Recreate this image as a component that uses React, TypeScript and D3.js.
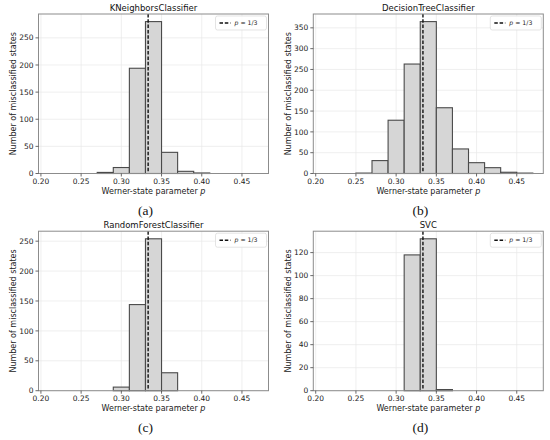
import * as d3 from "d3";

// histogram bin edges (width 0.02)
const binEdges = [0.21, 0.23, 0.25, 0.27, 0.29, 0.31, 0.33, 0.35, 0.37, 0.39, 0.41, 0.43, 0.45, 0.47];

const knnCounts = [0, 0, 0, 2, 11, 194, 280, 39, 4, 1, 0, 0, 0];
const treeCounts = [0, 0, 1, 31, 128, 263, 365, 158, 59, 26, 14, 3, 1];
const forestCounts = [0, 0, 0, 0, 6, 144, 254, 30, 0, 0, 0, 0, 0];
const svcCounts = [0, 0, 0, 0, 0, 118, 132, 1, 0, 0, 0, 0, 0];

const titles = ["KNeighborsClassifier", "DecisionTreeClassifier", "RandomForestClassifier", "SVC"];
const panelLabels = ["(a)", "(b)", "(c)", "(d)"];
const xTicks = [0.2, 0.25, 0.3, 0.35, 0.4, 0.45];
const yTickSets = [
  [0, 50, 100, 150, 200, 250],
  [0, 50, 100, 150, 200, 250, 300, 350],
  [0, 50, 100, 150, 200, 250],
  [0, 20, 40, 60, 80, 100, 120],
];
const countSets = [knnCounts, treeCounts, forestCounts, svcCounts];
const pCrit = 1 / 3;

const FONT = "DejaVu Sans, sans-serif";

function Panel({ idx, ox, oy }: { idx: number; ox: number; oy: number }) {
  const counts = countSets[idx];
  const W = 230;
  const H = 159.5;
  const x = d3.scaleLinear().domain([0.197, 0.483]).range([0, W]);
  const y = d3.scaleLinear().domain([0, (d3.max(counts) || 1) * 1.05]).range([H, 0]);
  const spine = "#8c8c8c";

  return (
    <g transform={`translate(${ox},${oy})`}>
      <rect x={0} y={0} width={W} height={H} fill="#fff" />
      {/* grid */}
      {xTicks.map(t => (
        <line key={"gx" + t} x1={x(t)} x2={x(t)} y1={0} y2={H} stroke="#e8e8e8" strokeWidth={0.7} />
      ))}
      {yTickSets[idx].map(t => (
        <line key={"gy" + t} x1={0} x2={W} y1={y(t)} y2={y(t)} stroke="#e8e8e8" strokeWidth={0.7} />
      ))}
      {/* bars */}
      {counts.map((c, i) => (
        <rect key={"b" + i}
          x={x(binEdges[i])} width={x(binEdges[i + 1]) - x(binEdges[i])}
          y={y(c)} height={y(0) - y(c)}
          fill="#d6d6d6" stroke="#4a4a4a" strokeWidth={1.1} />
      ))}
      {/* p = 1/3 */}
      <line x1={x(pCrit)} x2={x(pCrit)} y1={0} y2={H}
        stroke="#111" strokeWidth={1.4} strokeDasharray="3.5,1.8" />
      {/* spines */}
      <rect x={0} y={0} width={W} height={H} fill="none" stroke={spine} strokeWidth={1} />
      {/* x axis */}
      {xTicks.map(t => (
        <g key={"xt" + t} transform={`translate(${x(t)},${H})`}>
          <line y1={0} y2={3} stroke="#444" strokeWidth={0.8} />
          <text y={10.5} textAnchor="middle" fontSize={7.5} fontFamily={FONT} fill="#222">{d3.format(".2f")(t)}</text>
        </g>
      ))}
      <text x={W / 2} y={H + 20} textAnchor="middle" fontSize={8} fontFamily={FONT} fill="#222">
        Werner-state parameter <tspan fontStyle="italic">p</tspan>
      </text>
      {/* y axis */}
      {yTickSets[idx].map(t => (
        <g key={"yt" + t} transform={`translate(0,${y(t)})`}>
          <line x1={-3} x2={0} stroke="#444" strokeWidth={0.8} />
          <text x={-5} dy="0.35em" textAnchor="end" fontSize={7.5} fontFamily={FONT} fill="#222">{t}</text>
        </g>
      ))}
      <text transform={`translate(-22.5,${H / 2}) rotate(-90)`} textAnchor="middle" fontSize={8} fontFamily={FONT} fill="#222">
        Number of misclassified states
      </text>
      {/* title */}
      <text x={W / 2} y={-3.5} textAnchor="middle" fontSize={8.5} fontFamily={FONT} fill="#111">{titles[idx]}</text>
      {/* legend */}
      <g transform={`translate(${W - 53},2)`}>
        <rect x={0} y={0} width={51} height={14} rx={2} fill="#fff" fillOpacity={0.85} stroke="#d8d8d8" strokeWidth={0.7} />
        <line x1={4} x2={15} y1={7} y2={7} stroke="#111" strokeWidth={1.4} strokeDasharray="3.5,1.8" />
        <text x={19} y={9.3} fontSize={6.2} fontFamily={FONT} fill="#222">
          <tspan fontStyle="italic">p</tspan> = 1/3
        </text>
      </g>
      {/* sub-figure label */}
      <text x={W / 2 - 8} y={H + 41.5} textAnchor="middle" fontSize={13.5} fontFamily="Liberation Serif, serif" fill="#111">
        {panelLabels[idx]}
      </text>
    </g>
  );
}

export default function App() {
  const origins = [
    [38.5, 14],
    [313.3, 14],
    [38.5, 231.2],
    [313.3, 231.2],
  ];
  return (
    <svg width={550} height={440} style={{ position: "absolute", left: 0, top: 0, background: "#fff" }}>
      <rect width={550} height={440} fill="#fff" />
      {origins.map((o, i) => (
        <Panel key={i} idx={i} ox={o[0]} oy={o[1]} />
      ))}
    </svg>
  );
}
